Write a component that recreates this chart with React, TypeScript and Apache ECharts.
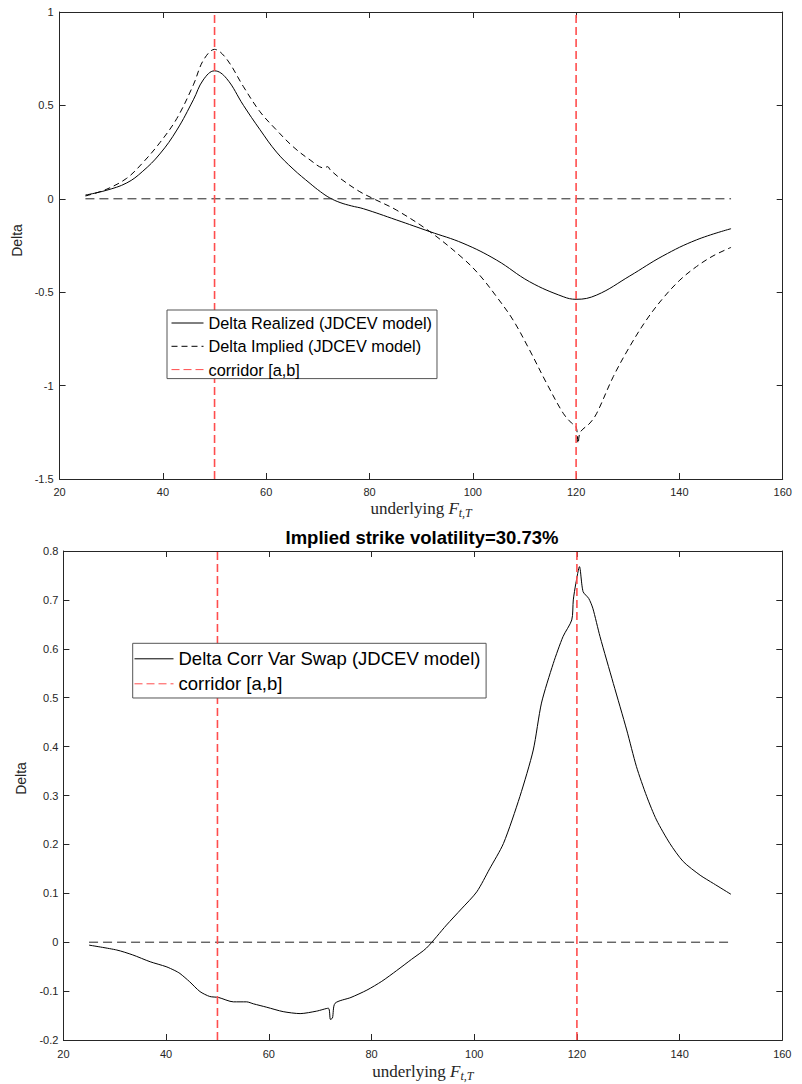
import React, { useEffect, useRef } from "react";
import * as echarts from "echarts";

// ---------- data ----------
const realizedX = [25, 29, 33, 36, 39.4, 42.7, 45.9, 47.8, 50, 52.3, 55.6, 58.8, 62, 65.2, 68.5, 70.5, 72.3, 74.3, 76.5, 78.8, 85.2, 91.7, 98.1, 104.6, 111, 117.5, 120, 124, 130.4, 136.8, 143.3, 150];
const realizedY = [0.02, 0.045, 0.085, 0.145, 0.24, 0.368, 0.53, 0.636, 0.685, 0.645, 0.5, 0.37, 0.25, 0.16, 0.082, 0.038, 0.005, -0.02, -0.038, -0.053, -0.113, -0.176, -0.238, -0.328, -0.444, -0.524, -0.538, -0.515, -0.413, -0.306, -0.22, -0.16];

const impliedX = [25, 29, 33, 36, 39.4, 42.7, 45.9, 47.8, 50, 52.3, 55.6, 58.8, 62, 65.2, 68.5, 71.2, 71.9, 72.4, 74.3, 78, 80.8, 85.2, 91.7, 98.1, 101.3, 104.6, 107.8, 111, 114.3, 117.5, 119.1, 120, 120.4, 120.8, 122.7, 124, 127.2, 130.4, 133.6, 136.8, 140.1, 143.3, 146.5, 150];
const impliedY = [0.015, 0.05, 0.11, 0.19, 0.3, 0.43, 0.61, 0.74, 0.8, 0.75, 0.6, 0.466, 0.368, 0.279, 0.208, 0.165, 0.172, 0.155, 0.11, 0.04, 0.0, -0.06, -0.176, -0.319, -0.408, -0.524, -0.649, -0.81, -0.988, -1.148, -1.2, -1.22, -1.31, -1.25, -1.2, -1.148, -0.952, -0.79, -0.649, -0.533, -0.435, -0.363, -0.306, -0.26];

const corrVarX = [25, 30.4, 33.5, 36.9, 40, 41.7, 42.7, 44.6, 46.6, 48.5, 50.2, 53.1, 55.7, 57, 59.6, 62.8, 66.1, 69.3, 71.6, 72.0, 72.4, 72.9, 76, 79.1, 82, 84.9, 87.8, 90.7, 94.6, 97.5, 100.5, 103, 105.7, 108.9, 111.5, 113.1, 115.4, 117.3, 119.0, 119.3, 119.8, 120.5, 121.2, 122.3, 123.1, 124.5, 127.1, 129.7, 131.6, 133.6, 135.5, 138.1, 140.7, 144.0, 146.6, 150];
const corrVarY = [-0.006, -0.016, -0.026, -0.04, -0.05, -0.058, -0.064, -0.081, -0.101, -0.111, -0.113, -0.122, -0.122, -0.126, -0.133, -0.142, -0.146, -0.141, -0.135, -0.158, -0.155, -0.125, -0.113, -0.098, -0.08, -0.058, -0.035, -0.012, 0.035, 0.068, 0.103, 0.15, 0.202, 0.298, 0.393, 0.489, 0.57, 0.625, 0.659, 0.7, 0.734, 0.768, 0.717, 0.703, 0.683, 0.625, 0.529, 0.434, 0.359, 0.298, 0.25, 0.202, 0.165, 0.137, 0.12, 0.098];

const zeroX = [25, 150];
const zeroY = [0, 0];
const corridorA = 50;
const corridorB = 120;

const xTicks = { min: 20, max: 160, interval: 20 };
const yTop = { min: -1.5, max: 1, interval: 0.5 };
const yBottom = { min: -0.2, max: 0.8, interval: 0.1 };

const titleText = "Implied strike volatility=30.73%";
const nameRealized = "Delta Realized (JDCEV model)";
const nameImplied = "Delta Implied (JDCEV model)";
const nameCorr = "Delta Corr Var Swap (JDCEV model)";
const nameCorridor = "corridor [a,b]";

// ---------- helpers ----------
const FONT = "'Liberation Sans', Arial, Helvetica, sans-serif";
const SERIF = "'Liberation Serif', 'Times New Roman', serif";
const AX = "#262626";
const RED = "#ff4d4d";

const zip = (xs: number[], ys: number[]) => xs.map((x, i) => [x, ys[i]]);

const xName = "{a|underlying }{b|F}{c|t,T}";
const xNameStyle = {
  color: AX,
  rich: {
    a: { fontFamily: SERIF, fontSize: 17, color: AX },
    b: { fontFamily: SERIF, fontSize: 17, fontStyle: "italic", color: AX },
    c: { fontFamily: SERIF, fontSize: 12, fontStyle: "italic", color: AX, padding: [9, 0, 0, 0] },
  },
};

function xAxesFor(grid: number, labelMargin: number, nameGap: number) {
  const common = {
    type: "value",
    gridIndex: grid,
    ...xTicks,
    axisLine: { show: true, onZero: false, lineStyle: { color: AX, width: 1 } },
    axisTick: { show: true, inside: true, length: 6, lineStyle: { color: AX, width: 1 } },
    splitLine: { show: false },
  };
  return [
    {
      ...common,
      position: "bottom",
      axisLabel: { color: AX, fontSize: 11, fontFamily: FONT, margin: labelMargin },
      name: xName,
      nameLocation: "middle",
      nameGap,
      nameTextStyle: xNameStyle,
    },
    { ...common, position: "top", axisLabel: { show: false } },
  ];
}

function yAxesFor(grid: number, range: any, labelMargin: number, nameGap: number, shift: number) {
  const common = {
    type: "value",
    gridIndex: grid,
    ...range,
    axisLine: { show: true, onZero: false, lineStyle: { color: AX, width: 1 } },
    axisTick: { show: true, inside: true, length: 6, lineStyle: { color: AX, width: 1 } },
    splitLine: { show: false },
  };
  return [
    {
      ...common,
      position: "left",
      axisLabel: { color: AX, fontSize: 11, fontFamily: FONT, margin: labelMargin },
      name: "Delta",
      nameLocation: "middle",
      nameGap,
      nameRotate: 90,
      nameTextStyle: { color: AX, fontSize: 14, fontFamily: FONT, padding: [0, 0, 0, shift] },
    },
    { ...common, position: "right", axisLabel: { show: false } },
  ];
}

function lineSeries(name: string, data: any[], xi: number, yi: number, lineStyle: any, smooth: any = false, z = 2) {
  return {
    type: "line",
    name,
    data,
    xAxisIndex: xi,
    yAxisIndex: yi,
    symbol: "none",
    showSymbol: false,
    smooth,
    lineStyle,
    itemStyle: { color: lineStyle.color },
    z,
    silent: true,
  };
}

const solid = { color: "#000", width: 1, type: "solid" };
const dashedCurve = { color: "#000", width: 1, type: [6, 4] };
const dashedZero = { color: "#222", width: 1, type: [9, 5] };
const dashedRed = { color: RED, width: 1.6, type: [8, 4] };

export default function App() {
  const ref = useRef<HTMLDivElement>(null);
  useEffect(() => {
    document.body.style.margin = "0";
    const chart = echarts.init(ref.current as HTMLDivElement, null, { renderer: "svg" });
    const option: any = {
      animation: false,
      backgroundColor: "#fff",
      grid: [
        { left: 59.6, right: 19.3, top: 12, height: 467 },
        { left: 63.4, right: 19.7, top: 551, height: 489 },
      ],
      xAxis: [...xAxesFor(0, 7, 19), ...xAxesFor(1, 8, 21)],
      yAxis: [...yAxesFor(0, yTop, 6, 28, 10), ...yAxesFor(1, yBottom, 5, 35, 34)],
      legend: [
        {
          data: [nameRealized, nameImplied, nameCorridor],
          orient: "vertical",
          left: 167,
          top: 310,
          padding: [5, 5, 1, 4],
          itemWidth: 32,
          itemHeight: 16,
          itemGap: 7.3,
          itemTextGap: 4,
          borderColor: "#555",
          borderWidth: 1,
          backgroundColor: "#fff",
          itemStyle: { opacity: 0 },
          lineStyle: { width: 1 },
          textStyle: { color: "#000", fontSize: 16.3, fontFamily: FONT, lineHeight: 16 },
          selectedMode: false,
        },
        {
          data: [nameCorr, nameCorridor],
          orient: "vertical",
          left: 132.7,
          top: 643.3,
          padding: [6, 5.7, 4.7, 1.3],
          itemWidth: 39,
          itemHeight: 18,
          itemGap: 6,
          itemTextGap: 4,
          borderColor: "#555",
          borderWidth: 1,
          backgroundColor: "#fff",
          itemStyle: { opacity: 0 },
          lineStyle: { width: 1 },
          textStyle: { color: "#000", fontSize: 18.5, fontFamily: FONT, lineHeight: 18 },
          selectedMode: false,
        },
      ],
      graphic: [
        {
          type: "text",
          x: 422,
          y: 537,
          style: {
            text: titleText,
            textAlign: "center",
            textVerticalAlign: "middle",
            font: `bold 18.5px ${FONT}`,
            fill: "#000",
          },
        },
      ],
      series: [
        lineSeries(nameRealized, zip(realizedX, realizedY), 0, 0, solid, 0.4),
        lineSeries(nameImplied, zip(impliedX, impliedY), 0, 0, dashedCurve, 0.35),
        lineSeries("zero-top", zip(zeroX, zeroY), 0, 0, dashedZero),
        lineSeries(nameCorridor, [[corridorB, yTop.min], [corridorB, yTop.max]], 0, 0, dashedRed, false, 3),
        lineSeries(nameCorridor, [[corridorA, yTop.min], [corridorA, yTop.max]], 0, 0, dashedRed, false, 3),
        lineSeries(nameCorr, zip(corrVarX, corrVarY), 2, 2, solid, 0.25),
        lineSeries("zero-bottom", zip(zeroX, zeroY), 2, 2, dashedZero),
        lineSeries(nameCorridor, [[corridorA, yBottom.min], [corridorA, yBottom.max]], 2, 2, dashedRed, false, 3),
        lineSeries(nameCorridor, [[corridorB, yBottom.min], [corridorB, yBottom.max]], 2, 2, dashedRed, false, 3),
      ],
    };
    chart.setOption(option);
    return () => chart.dispose();
  }, []);
  return <div ref={ref} style={{ width: 802, height: 1084 }} />;
}
